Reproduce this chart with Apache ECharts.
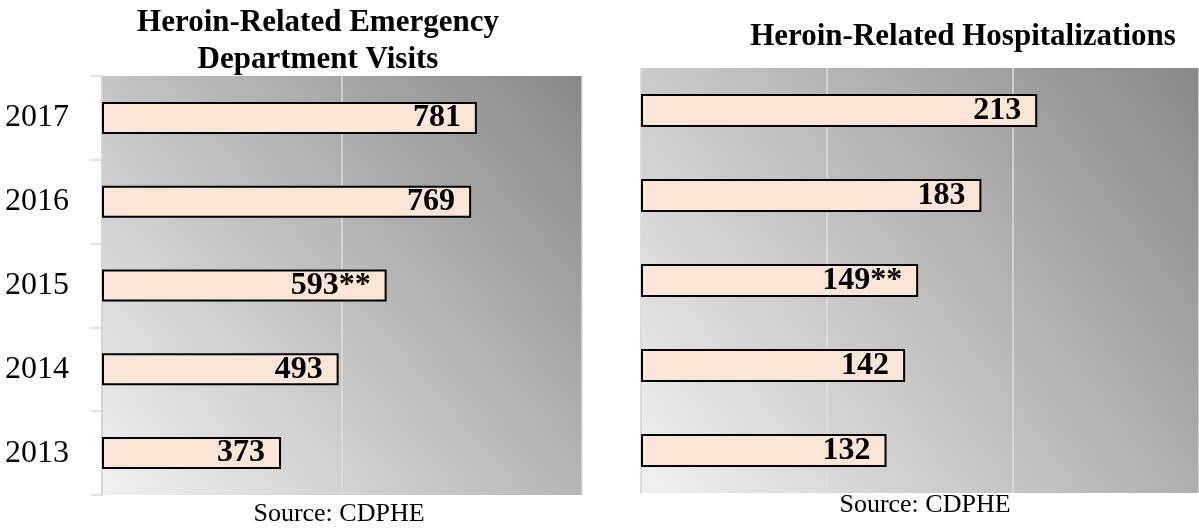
<!DOCTYPE html>
<html>
<head>
<meta charset="utf-8">
<script src="https://cdn.jsdelivr.net/npm/echarts@6/dist/echarts.min.js"></script>
<style>
html,body{margin:0;padding:0;background:#fff;}
#chart{width:1199px;height:529px;}
</style>
</head>
<body>
<div id="chart"></div>
<script>
// ---- data ----
const years = ['2013', '2014', '2015', '2016', '2017'];
const edVisits = [373, 493, 593, 769, 781];
const hospitalizations = [132, 142, 149, 183, 213];
const labelNotes = ['', '', '**', '', ''];
const edAxis = { min: 0, max: 1000, interval: 500 };
const hospAxis = { min: 0, max: 300, interval: 100 };
const leftTitle = 'Heroin-Related Emergency\nDepartment Visits';
const rightTitle = 'Heroin-Related Hospitalizations';
const sourceText = 'Source: CDPHE';

// ---- styling ----
const serif = '"Liberation Serif", "DejaVu Serif", serif';
const plotBg = {
  type: 'linear', x: 0, y: 1, x2: 1, y2: 0,
  colorStops: [{ offset: 0, color: '#f1f1f1' }, { offset: 1, color: '#888888' }]
};
const barStyle = { color: '#fbe5d6', borderColor: '#000', borderWidth: 2 };
const labelStyle = {
  show: true, position: 'insideRight', distance: 16,
  fontFamily: serif, fontWeight: 'bold', fontSize: 32, color: '#000',
  formatter: p => p.value + labelNotes[p.dataIndex]
};

const chart = echarts.init(document.getElementById('chart'), null, { renderer: 'canvas' });
chart.setOption({
  animation: false,
  backgroundColor: '#fff',
  title: [
    { text: leftTitle, left: 318, top: 4, textAlign: 'center', padding: 0,
      textStyle: { fontFamily: serif, fontWeight: 'bold', fontSize: 31, lineHeight: 37, color: '#000' } },
    { text: rightTitle, left: 963, top: 18, textAlign: 'center', padding: 0,
      textStyle: { fontFamily: serif, fontWeight: 'bold', fontSize: 31, lineHeight: 37, color: '#000' } },
    { text: sourceText, left: 339, top: 500, textAlign: 'center', padding: 0,
      textStyle: { fontFamily: serif, fontWeight: 'normal', fontSize: 26, lineHeight: 28, color: '#000' } },
    { text: sourceText, left: 925, top: 491, textAlign: 'center', padding: 0,
      textStyle: { fontFamily: serif, fontWeight: 'normal', fontSize: 26, lineHeight: 28, color: '#000' } }
  ],
  grid: [
    { left: 102, top: 76, width: 480, height: 419, show: true, backgroundColor: plotBg, borderWidth: 0, containLabel: false },
    { left: 641, top: 68, width: 567, height: 425, show: true, backgroundColor: plotBg, borderWidth: 0, containLabel: false }
  ],
  xAxis: [
    { type: 'value', gridIndex: 0, min: edAxis.min, max: edAxis.max, interval: edAxis.interval,
      axisLine: { show: false }, axisTick: { show: false }, axisLabel: { show: false },
      splitLine: { show: true, lineStyle: { color: '#dedede', width: 1.5 } } },
    { type: 'value', gridIndex: 1, min: hospAxis.min, max: hospAxis.max, interval: hospAxis.interval,
      axisLine: { show: false }, axisTick: { show: false }, axisLabel: { show: false },
      splitLine: { show: true, lineStyle: { color: '#dedede', width: 1.5 } } }
  ],
  yAxis: [
    { type: 'category', gridIndex: 0, data: years,
      axisLine: { show: true, lineStyle: { color: '#d0d0d0', width: 1.5 } },
      axisTick: { show: true, length: 11, lineStyle: { color: '#d9d9d9', width: 1.5 } },
      axisLabel: { show: true, margin: 33, fontFamily: serif, fontSize: 32, color: '#000' } },
    { type: 'category', gridIndex: 1, data: years,
      axisLine: { show: true, lineStyle: { color: '#d8d8d8', width: 1.5 } },
      axisTick: { show: false }, axisLabel: { show: false } }
  ],
  series: [
    { type: 'bar', xAxisIndex: 0, yAxisIndex: 0, data: edVisits, barWidth: 32,
      itemStyle: barStyle, label: labelStyle },
    { type: 'bar', xAxisIndex: 1, yAxisIndex: 1, data: hospitalizations, barWidth: 33,
      itemStyle: barStyle, label: labelStyle }
  ]
});
</script>
</body>
</html>
